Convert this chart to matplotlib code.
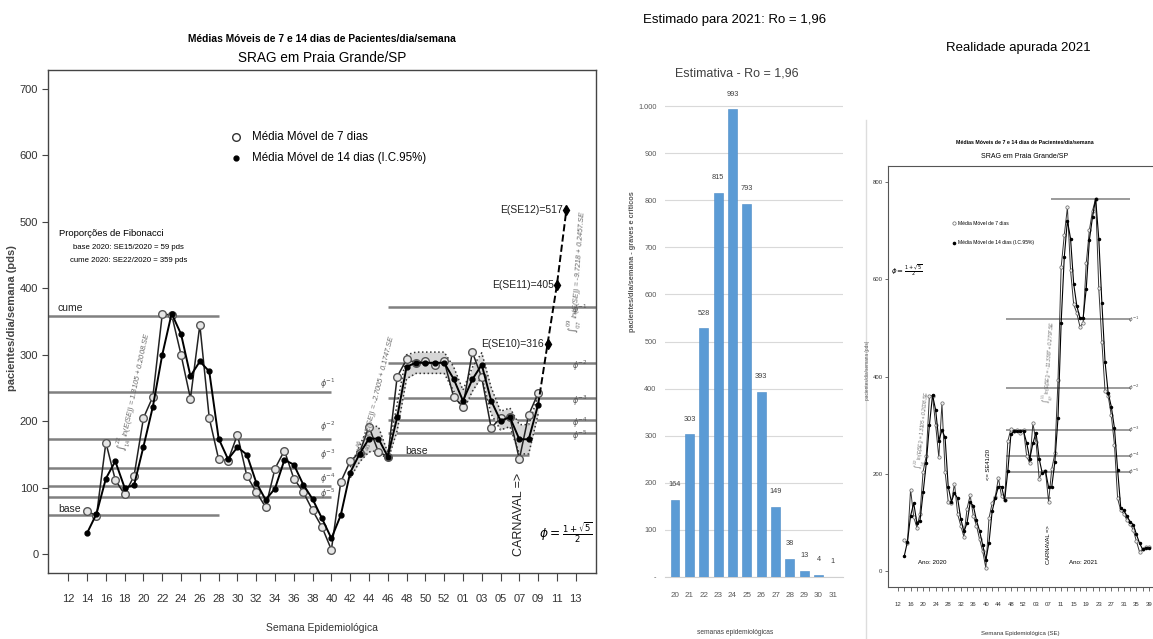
import matplotlib
matplotlib.use("Agg")
import matplotlib.pyplot as plt
from matplotlib.lines import Line2D

W, H = 1153, 639
plt.rcParams['font.family'] = ['Liberation Sans', 'DejaVu Sans']
plt.rcParams['mathtext.fontset'] = 'dejavusans'

# ---------------- data ----------------
# panel 1: 2020 SE14 .. 2021 SE09 (index 54 = SE01/2021)
weeks = list(range(14, 63))
ma7 = [65, 58, 168, 112, 90, 118, 205, 237, 361, 360, 300, 234, 345, 205, 143,
       141, 180, 118, 94, 71, 129, 156, 114, 94, 66, 41, 7, 109, 140, 153, 192,
       154, 147, 267, 293, 288, 291, 284, 291, 237, 222, 304, 266, 190, 205,
       206, 143, 210, 242]
ma14 = [32, 61, 114, 140, 100, 104, 162, 222, 300, 362, 331, 268, 290, 275, 174,
        143, 161, 150, 108, 82, 99, 142, 135, 105, 83, 54, 24, 59, 123, 151, 174,
        174, 147, 206, 282, 288, 288, 288, 288, 264, 231, 263, 285, 231, 201,
        206, 173, 173, 225]
ci_weeks = list(range(42, 63))
ci_half = [8, 12, 20, 18, 6, 20, 18, 16, 16, 16, 16, 18, 16, 18, 18, 20, 14, 14,
           22, 22, 14]
proj_weeks = [62, 63, 64, 65]
proj_vals = [225, 316, 405, 517]
proj_labels = ["E(SE10)=316", "E(SE11)=405", "E(SE12)=517"]

base20, cume20 = 59, 359
fib20 = [244, 174, 130, 103, 86]
base21 = 150
fib21 = [372, 287, 235, 202, 182]
phi_labels = [r"$\phi^{-1}$", r"$\phi^{-2}$", r"$\phi^{-3}$", r"$\phi^{-4}$", r"$\phi^{-5}$"]

# panel 2: estimate
est_weeks = ["20", "21", "22", "23", "24", "25", "26", "27", "28", "29", "30", "31"]
est_vals = [164, 303, 528, 815, 993, 793, 393, 149, 38, 13, 4, 1]

# panel 3: 2021 SE10 .. SE39
weeks_21 = list(range(63, 93))
ma14_21 = [315, 510, 645, 720, 683, 590, 545, 520, 520, 580, 680, 727, 765, 683,
           550, 430, 366, 338, 294, 209, 131, 125, 113, 102, 96, 76, 58, 45, 48, 48]
ma7_21 = [392, 624, 690, 747, 618, 548, 530, 502, 510, 632, 700, 740, 765, 581,
          470, 370, 360, 320, 260, 150, 125, 118, 105, 98, 85, 62, 40, 45, 50, 50]
cume21b = 765
fib21b = [517, 377, 290, 237, 205]


def rect(l, t, r, b):
    return [l / W, 1 - b / H, (r - l) / W, (b - t) / H]


def wlab(w):
    return str(w) if w <= 53 else "%02d" % (w - 53)


fig = plt.figure(figsize=(W / 100, H / 100), dpi=100)

# ================= panel 1 =================
ax1 = fig.add_axes(rect(48, 70, 596, 573))
ax1.set_xlim(9.84, 68.16)
ax1.set_ylim(-28, 728)
for s in ax1.spines.values():
    s.set_color('#444444')
    s.set_linewidth(1.0)
ax1.set_xticks(list(range(12, 67, 2)))
ax1.set_xticklabels([wlab(w) for w in range(12, 67, 2)], fontsize=8, color='#333333')
ax1.set_yticks(range(0, 701, 100))
ax1.set_yticklabels([str(v) for v in range(0, 701, 100)], fontsize=8, color='#333333')
ax1.tick_params(axis='x', length=6, pad=9, color='#444444')
ax1.tick_params(axis='y', length=4, pad=3, color='#444444')

gl = dict(color='#808080', lw=1.8, zorder=1)
ax1.hlines([cume20, base20], 9.84, 28, **gl)
ax1.hlines(fib20, 9.84, 40, **gl)
ax1.hlines(fib21, 46, 68.16, **gl)
ax1.hlines([base21], 46, 61, **gl)

ax1.text(10.9, 363, "cume", fontsize=7.5, va='bottom', color='#222222')
ax1.text(10.9, 61, "base", fontsize=7.5, va='bottom', color='#222222')
ax1.text(47.9, 155, "base", fontsize=7.5, va='center', color='#222222')

mid_y = [257, 192, 150, 114, 91]
for lbl, yy in zip(phi_labels, mid_y):
    ax1.text(39.6, yy, lbl, fontsize=5.8, ha='center', va='center', color='#555555')
for lbl, yy in zip(phi_labels, fib21):
    ax1.text(66.4, yy - 4, lbl, fontsize=5.8, ha='center', va='center', color='#555555')

lo = [ma14[weeks.index(w)] - h for w, h in zip(ci_weeks, ci_half)]
hi = [ma14[weeks.index(w)] + h for w, h in zip(ci_weeks, ci_half)]
ax1.fill_between(ci_weeks, lo, hi, color='#d6d6d6', zorder=2, lw=0)
ax1.plot(ci_weeks, lo, ls=':', color='#333333', lw=1.1, zorder=2)
ax1.plot(ci_weeks, hi, ls=':', color='#333333', lw=1.1, zorder=2)

ax1.plot(weeks, ma7, '-o', color='#222222', lw=1.1, ms=5.5, mfc='#e6e6e6',
         mec='#555555', mew=1.0, zorder=3)
ax1.plot(weeks, ma14, '-o', color='black', lw=1.4, ms=3.5, mfc='black',
         mec='black', zorder=4)
ax1.plot(proj_weeks, proj_vals, '--', color='black', lw=1.4, zorder=3)
ax1.plot(proj_weeks[1:], proj_vals[1:], 'd', color='black', ms=5, zorder=4)
for w, v, t in zip(proj_weeks[1:], proj_vals[1:], proj_labels):
    ax1.text(w - 0.35, v, t, fontsize=7.5, ha='right', va='center', color='#222222')

reg = dict(fontsize=5.3, color='#666666', style='italic', ha='center', va='center',
           rotation_mode='anchor')
ax1.text(19.0, 245, r"$\int_{14}^{22}$ ln(E(SE)) = 1.3105 + 0.2008.SE", rotation=78, **reg)
ax1.text(44.8, 240, r"$\int_{40}^{46}$ ln(E(SE)) = -2.7005 + 0.1747.SE", rotation=76, **reg)
ax1.text(66.3, 425, r"$\int_{07}^{09}$ ln(E(SE)) = -9.7218 + 0.2457.SE", rotation=86, **reg)

ax1.text(60, 60, "CARNAVAL =>", rotation=90, fontsize=9, ha='center', va='center',
         color='#222222')
ax1.text(65.0, 32, r"$\phi = \frac{1+\sqrt{5}}{2}$", fontsize=8.8, ha='center', va='center')

ax1.plot([29.8], [628], 'o', ms=5.5, mfc='white', mec='#333333')
ax1.plot([29.8], [596], 'o', ms=3.5, color='black')
ax1.text(31.6, 628, "Média Móvel de 7 dias", fontsize=8.3, va='center')
ax1.text(31.6, 596, "Média Móvel de 14 dias (I.C.95%)", fontsize=8.3, va='center')

ax1.text(10.96, 483, "Proporções de Fibonacci", fontsize=6.8, va='center')
ax1.text(12.5, 461, "base 2020: SE15/2020 = 59 pds", fontsize=5.6, va='center')
ax1.text(12.2, 441, "cume 2020: SE22/2020 = 359 pds", fontsize=5.6, va='center')

fig.text(322 / W, 1 - 39 / H, "Médias Móveis de 7 e 14 dias de Pacientes/dia/semana",
         fontsize=7.4, weight='bold', ha='center', va='center')
fig.text(322 / W, 1 - 58 / H, "SRAG em Praia Grande/SP", fontsize=9.8, ha='center', va='center')
fig.text(322 / W, 1 - 628 / H, "Semana Epidemiológica", fontsize=7.5, ha='center', va='center',
         color='#333333')
fig.text(12 / W, 1 - 318 / H, "pacientes/dia/semana (pds)", fontsize=8, rotation=90,
         ha='center', va='center', weight='bold', color='#444444')

# ================= panel 2 =================
ax2 = fig.add_axes(rect(665, 100, 843, 577))
xs = list(range(len(est_vals)))
ax2.bar(xs, est_vals, width=0.62, color='#5b9bd5', edgecolor='#4a8ac6', lw=0.4, zorder=3)
ax2.set_xlim(-0.7, len(est_vals) - 0.3)
ax2.set_ylim(0, 1013)
ax2.set_yticks(range(0, 1001, 100))
ax2.set_yticklabels(['-'] + [str(v) for v in range(100, 1000, 100)] + ['1.000'],
                    fontsize=5.3, color='#595959')
ax2.set_xticks(xs)
ax2.set_xticklabels(est_weeks, fontsize=5.8, color='#595959')
ax2.tick_params(length=0)
ax2.tick_params(axis='x', pad=11)
ax2.tick_params(axis='y', pad=6)
ax2.grid(axis='y', color='#d9d9d9', lw=0.8, zorder=0)
for k in ['top', 'right', 'left']:
    ax2.spines[k].set_visible(False)
ax2.spines['bottom'].set_color('#d0d0d0')
for x, v in zip(xs, est_vals):
    ax2.annotate(str(v), (x, v), xytext=(0, 11), textcoords='offset points',
                 ha='center', va='center', fontsize=5.3, color='#404040')

fig.text(735 / W, 1 - 20 / H, "Estimado para 2021: Ro = 1,96", fontsize=9.5,
         ha='center', va='center')
fig.text(737 / W, 1 - 73 / H, "Estimativa - Ro = 1,96", fontsize=9, ha='center',
         va='center', color='#404040')
fig.text(632 / W, 1 - 262 / H, "pacientes/dia/semana - graves e críticos", fontsize=5.3,
         rotation=90, ha='center', va='center', color='#595959', weight='bold')
fig.text(735 / W, 1 - 632 / H, "semanas epidemiológicas", fontsize=4.8, ha='center',
         va='center', color='#404040')

# ================= panel 3 =================
fig.add_artist(Line2D([866 / W, 866 / W], [1 - 120 / H, 0], color='#dddddd', lw=1.0))
fig.text(1018 / W, 1 - 48 / H, "Realidade apurada 2021", fontsize=9.5, ha='center', va='center')

ax3 = fig.add_axes(rect(888, 166, 1159, 587))
ax3.set_xlim(8.8, 95.2)
ax3.set_ylim(-32, 832)
for s in ax3.spines.values():
    s.set_color('#555555')
    s.set_linewidth(0.8)
ax3.set_xticks(list(range(12, 93, 4)))
ax3.set_xticklabels([wlab(w) for w in range(12, 93, 4)], fontsize=4.3, color='#333333')
ax3.set_xticks(list(range(14, 93, 4)), minor=True)
ax3.tick_params(axis='x', which='both', length=3, pad=8, color='#555555', width=0.6)
ax3.set_yticks(range(0, 801, 200))
ax3.set_yticklabels([str(v) for v in range(0, 801, 200)], fontsize=4.3, color='#333333')
ax3.tick_params(axis='y', length=2, pad=2, color='#555555', width=0.6)

gl3 = dict(color='#8a8a8a', lw=1.2, zorder=1)
ax3.hlines([cume21b], 60.7, 86, **gl3)
ax3.hlines(fib21b, 46.4, 86, **gl3)
ax3.hlines([base21], 46.4, 60.7, **gl3)
for lbl, yy in zip(phi_labels, fib21b):
    ax3.text(87, yy, lbl, fontsize=4, ha='center', va='center', color='#555555')

all_w = weeks + weeks_21
ax3.plot(all_w, ma7 + ma7_21, '-o', color='#333333', lw=0.7, ms=2.4, mfc='#eeeeee',
         mec='#666666', mew=0.5, zorder=3)
ax3.plot(all_w, ma14 + ma14_21, '-o', color='black', lw=0.8, ms=1.5, zorder=4)

ax3.text(22.8, 18, "Ano: 2020", fontsize=4.5, ha='center', va='center')
ax3.text(71.2, 18, "Ano: 2021", fontsize=4.5, ha='center', va='center')
ax3.text(60, 55, "CARNAVAL =>", rotation=90, fontsize=4.2, ha='center', va='center')
ax3.text(41, 219, "<= SE41/20", rotation=90, fontsize=4.2, ha='center', va='center')
reg3 = dict(fontsize=3.4, color='#666666', style='italic', ha='center', va='center',
            rotation_mode='anchor')
ax3.text(20, 290, r"$\int_{14}^{22}$ ln(E(SE)) = 1.3105 + 0.2008.SE", rotation=84, **reg3)
ax3.text(60.5, 430, r"$\int_{07}^{11}$ ln(E(SE)) = -11.3387 + 0.2797.SE", rotation=86, **reg3)
ax3.text(14.9, 618, r"$\phi = \frac{1+\sqrt{5}}{2}$", fontsize=5, ha='center', va='center')

ax3.plot([29.8], [714], 'o', ms=2.4, mfc='white', mec='#666666', mew=0.5)
ax3.plot([29.8], [675], 'o', ms=1.6, color='black')
ax3.text(31.2, 714, "Média Móvel de 7 dias", fontsize=3.6, va='center')
ax3.text(31.2, 675, "Média Móvel de 14 dias (I.C.95%)", fontsize=3.6, va='center')

fig.text(1025 / W, 1 - 142 / H, "Médias Móveis de 7 e 14 dias de Pacientes/dia/semana",
         fontsize=3.8, weight='bold', ha='center', va='center')
fig.text(1025 / W, 1 - 157 / H, "SRAG em Praia Grande/SP", fontsize=5, ha='center',
         va='center')
fig.text(1020 / W, 1 - 633 / H, "Semana Epidemiológica (SE)", fontsize=4.3, ha='center',
         va='center', color='#333333')
fig.text(867 / W, 1 - 370 / H, "pacientes/dia/semana (pds)", fontsize=3.4, rotation=90,
         ha='center', va='center', color='#555555')

fig.savefig("out.png", dpi=100)
